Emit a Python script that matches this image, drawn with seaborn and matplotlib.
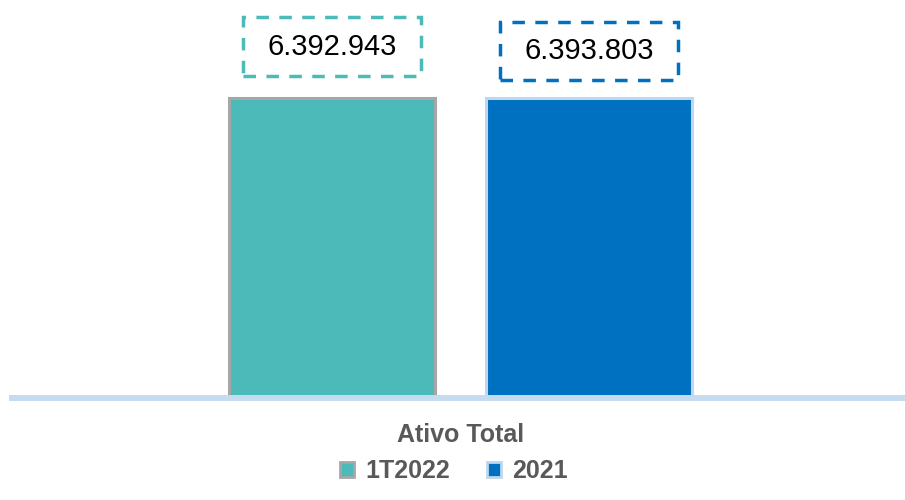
import matplotlib
matplotlib.use('Agg')
import matplotlib.pyplot as plt
from matplotlib.patches import Patch
from matplotlib.path import Path
import pandas as pd
import seaborn as sns

# Data
categories = ['Ativo Total']
series = ['1T2022', '2021']
values = [6392943, 6393803]
labels = ['6.392.943', '6.393.803']

fill_colors = ['#4BBAB9', '#0070C0']
edge_colors = ['#A6A6A6', '#BDD7EE']
box_colors = ['#4BBAB9', '#0070C0']

df = pd.DataFrame({'categoria': categories * len(series), 'serie': series, 'valor': values})

sns.set_theme(style='white')
plt.rcParams['font.family'] = ['Liberation Sans', 'DejaVu Sans']


def wide_box(x0, y0, width, height, mutation_size):
    # rectangle with more room left/right than top/bottom
    px, py = 0.84 * mutation_size, 0.52 * mutation_size
    x0, x1 = x0 - px, x0 + width + px
    y0, y1 = y0 - py, y0 + height + py
    return Path([(x0, y0), (x1, y0), (x1, y1), (x0, y1), (x0, y0)], closed=True)


fig = plt.figure(figsize=(9.05, 5), dpi=100)
ax = fig.add_axes([9 / 905, 1 - 398 / 500, 1 - 9 / 905, 398 / 500])

sns.barplot(data=df, x='categoria', y='valor', hue='serie', hue_order=series,
            palette=dict(zip(series, fill_colors)), saturation=1, gap=0.2, width=0.8,
            legend=False, ax=ax, zorder=2)

for bar, ec in zip(ax.patches, edge_colors):
    bar.set_edgecolor(ec)
    bar.set_linewidth(2.2)

# data labels in dashed boxes
label_offsets = [37, 34]
for bar, txt, bc, off in zip(list(ax.patches), labels, box_colors, label_offsets):
    ax.annotate(txt, (bar.get_x() + bar.get_width() / 2, bar.get_height()),
                xytext=(0, off), textcoords='offset points', ha='center', va='center',
                fontsize=21, color='black',
                bbox=dict(boxstyle=wide_box, fc='white', ec=bc, lw=2.5,
                          ls=(0, (3.6, 3))))

ax.set_xlim(-0.703, 0.692)
ax.set_ylim(0, max(values) * 398 / 300)
ax.axhline(0, color='#C5DCF0', lw=4.3, zorder=3, clip_on=False, solid_capstyle='butt')

sns.despine(ax=ax, left=True, bottom=True, top=True, right=True)
ax.set_yticks([])
ax.set_xlabel('')
ax.set_ylabel('')
ax.tick_params(axis='x', length=0, pad=18, labelsize=18, labelcolor='#595959')
for t in ax.get_xticklabels():
    t.set_fontweight('bold')

handles = [Patch(facecolor=fc, edgecolor=ec, linewidth=2, label=s)
           for fc, ec, s in zip(fill_colors, edge_colors, series)]
leg = fig.legend(handles=handles, loc='center', bbox_to_anchor=(454 / 905, 0.058),
                 ncol=2, frameon=False, handlelength=0.55, handleheight=0.55,
                 handletextpad=0.45, columnspacing=1.5,
                 prop={'weight': 'bold', 'size': 18})
for t in leg.get_texts():
    t.set_color('#595959')

fig.savefig('out.png', dpi=100)
